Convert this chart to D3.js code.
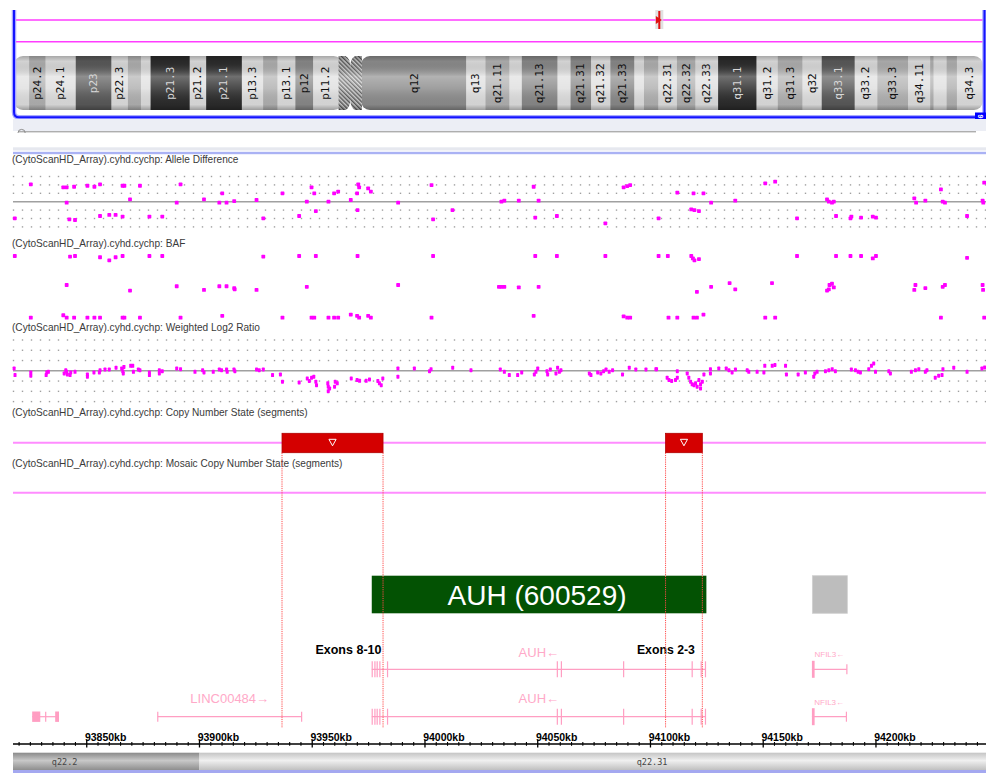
<!DOCTYPE html>
<html><head><meta charset="utf-8">
<script src="https://cdn.jsdelivr.net/npm/d3@7"></script>
<style>body{margin:0;background:#fff;}svg{display:block;}</style>
</head><body>
<svg id="chart" width="986" height="773"></svg>
<script>
// ---------------- DATA ----------------
const bandNames = ["p24.3","p24.2","p24.1","p23","p22.3","p22.2","p22.1","p21.3","p21.2","p21.1","p13.3","p13.2","p13.1","p12","p11.2","p11.1","q11","q12","q13","q21.11","q21.12","q21.13","q21.2","q21.31","q21.32","q21.33","q22.1","q22.2","q22.31","q22.32","q22.33","q31.1","q31.2","q31.3","q32","q33.1","q33.2","q33.3","q34.11","q34.12","q34.13","q34.2","q34.3"];
const bandStartMb = [0,2.2,4.6,9.0,14.2,16.6,18.5,19.9,25.6,28.0,33.2,36.3,38.4,41.0,43.6,47.3,49.0,50.7,65.9,68.7,72.2,74.0,79.2,81.1,84.1,86.9,90.4,91.8,93.9,96.6,99.3,102.6,108.2,111.3,114.9,117.7,122.5,125.8,130.3,133.5,134.0,135.9,137.4];
const bandStains = ["gneg","gpos25","gneg","gpos75","gneg","gpos25","gneg","gpos100","gneg","gpos100","gneg","gpos25","gneg","gpos50","gneg","acen","acen","gvar","gneg","gpos25","gneg","gpos50","gneg","gpos50","gneg","gpos50","gneg","gpos25","gneg","gpos25","gneg","gpos100","gneg","gpos25","gneg","gpos75","gneg","gpos25","gneg","gpos25","gneg","gpos25","gneg"];
const chromEndMb = 141.2;
const viewMarkerMb = 94.03;

const viewKb = [93817.3, 94248.8];
const axisMajorKb = [93850, 93900, 93950, 94000, 94050, 94100, 94150, 94200];
const axisMinorStepKb = 5;

const trackTitles = [
  "(CytoScanHD_Array).cyhd.cychp: Allele Difference",
  "(CytoScanHD_Array).cyhd.cychp: BAF",
  "(CytoScanHD_Array).cyhd.cychp: Weighted Log2 Ratio",
  "(CytoScanHD_Array).cyhd.cychp: Copy Number State (segments)",
  "(CytoScanHD_Array).cyhd.cychp: Mosaic Copy Number State (segments)"
];
const gridLevels = [-1.5, -1, -0.5, 0.5, 1, 1.5];

const alleleDiff = [
[93825.2,1.03],[93839.6,0.85],[93841.1,0.85],[93844.4,0.89],[93850.3,0.95],[93853.4,0.89],[93855.9,1.03],[93865.9,0.95],[93866.7,0.95],[93873.6,0.95],[93891.6,1.03],[93949.7,0.85],[93970.4,1.03],[93970.8,0.85],[93974.8,0.79],[93976.0,0.60],[94002.9,0.99],
[93910.1,0.50],[93936.8,0.50],[93950.9,0.50],[93959.7,0.50],[93961.5,0.60],[93969.9,0.50],
[93841.1,-0.06],[93869.2,0.14],[93889.9,-0.06],[93902.0,0.14],[93908.8,-0.06],[93912.0,-0.06],[93915.4,0.04],[93925.3,0.10],[93947.6,0.00],[93957.2,0.00],[93967.1,0.10],[93988.1,-0.06],
[93951.6,-0.56],[93970.1,-0.50],[94012.2,-0.50],
[93818.1,-0.99],[93842.3,-1.05],[93844.8,-1.09],[93855.9,-0.85],[93860.0,-0.79],[93862.8,-0.79],[93865.9,-0.89],[93877.8,-0.89],[93883.5,-0.89],[93928.3,-0.99],[93944.2,-0.85],[94003.6,-1.05],
[94048.2,0.89],[94088.1,0.85],[94089.7,0.93],[94091.0,0.99],[94150.9,1.09],[94155.3,1.19],[94248.0,1.13],
[94111.9,0.54],[94119.1,0.50],[94123.5,0.50],[94228.8,0.73],
[94033.9,0.00],[94035.2,0.06],[94041.6,0.06],[94050.4,0.06],[94126.9,-0.06],[94137.6,0.06],[94178.3,0.14],[94179.1,0.00],[94180.5,-0.06],[94181.3,0.00],[94217.0,0.20],[94217.8,-0.06],[94221.9,0.06],[94229.6,0.00],[94230.6,-0.06],[94247.3,0.06],[94247.6,-0.06],
[94118.1,-0.46],[94119.5,-0.50],[94121.5,-0.56],
[94048.9,-0.95],[94058.5,-0.85],[94080.0,-1.29],[94103.6,-0.99],[94165.0,-0.99],[94182.3,-0.85],[94188.7,-0.99],[94189.1,-0.89],[94193.4,-0.95],[94198.6,-0.89],[94200.0,-0.95],[94240.4,-0.85]
];

const baf = [
[93818.1,1.00],[93842.6,0.99],[93844.8,1.00],[93855.9,0.98],[93860.0,0.93],[93862.8,0.98],[93865.9,1.00],[93877.8,1.00],[93883.5,1.00],[93928.3,0.99],[93944.2,1.00],[93951.6,1.00],[93970.1,1.00],[94003.6,1.00],
[93841.1,0.53],[93869.2,0.44],[93889.9,0.51],[93902.0,0.45],[93908.8,0.51],[93912.0,0.51],[93915.4,0.48],[93915.6,0.46],[93925.3,0.45],[93947.6,0.50],[93988.1,0.53],[94032.8,0.50],
[93825.2,0],[93839.6,0.04],[93841.1,0],[93844.4,0],[93850.3,0],[93853.4,0],[93855.9,0],[93865.9,0],[93866.7,0],[93873.6,0],[93891.6,0],[93910.1,0.03],[93936.8,0],[93949.7,0],[93950.9,0],[93957.2,0],[93959.7,0],[93961.5,0],[93967.1,0.05],[93969.9,0.03],[93970.8,0],[93974.8,0.03],[93976.0,0],[94002.9,0],
[94048.9,1.00],[94058.5,1.00],[94080.0,1.00],[94103.6,1.00],[94107.7,1.00],[94118.1,1.00],[94118.8,0.96],[94119.5,0.93],[94121.5,0.95],[94165.0,1.00],[94182.3,1.00],[94188.7,1.00],[94193.4,1.00],[94198.6,0.96],[94200.0,1.00],[94240.4,0.97],
[94033.9,0.50],[94035.2,0.50],[94041.6,0.49],[94050.4,0.50],[94120.6,0.42],[94126.9,0.50],[94135.1,0.56],[94137.6,0.46],[94153.9,0.56],[94178.3,0.44],[94179.1,0.46],[94179.4,0.53],[94180.5,0.55],[94181.3,0.49],[94217.5,0.53],[94217.0,0.45],[94221.9,0.48],[94229.6,0.50],[94230.6,0.53],[94247.3,0.53],[94247.5,0.45],
[94048.2,0.03],[94088.1,0.02],[94089.7,0],[94091.0,0],[94108.0,0],[94111.9,0],[94119.1,0],[94120.6,0],[94123.5,0.05],[94150.9,0],[94155.3,0],[94228.8,0],[94248.0,0]
];

const log2Ratio = [
[93817.8,0.11],[93818.2,-0.21],[93825.2,-0.08],[93825.2,-0.24],[93832.3,-0.08],[93832.0,-0.21],[93833.0,-0.05],[93840.0,-0.13],[93840.7,0.03],[93841.1,-0.05],[93841.4,-0.18],[93842.6,-0.21],[93842.9,-0.08],[93844.8,-0.05],[93850.3,-0.18],[93850.3,-0.29],[93853.2,-0.08],[93855.6,-0.08],[93855.9,0.03],[93858.1,0.06],[93860.0,0.06],[93863.0,0.15],[93865.5,0.11],[93866.0,-0.02],[93866.2,-0.13],[93866.5,0.19],[93869.5,0.24],[93870.4,0.24],[93870.7,-0.05],[93872.9,0.06],[93873.6,0.03],[93877.8,-0.08],[93877.8,-0.21],[93882.2,0.03],[93882.2,-0.13],[93883.5,-0.02],[93889.9,0.11],[93891.6,0.08],[93898.0,-0.05],[93901.4,0.03],[93902.0,-0.08],[93906.1,-0.05],[93908.8,0.06],[93909.8,0.03],[93912.0,0.06],[93912.3,-0.05],[93915.3,0.06],[93915.7,-0.02],[93925.3,0.06],[93926.5,0.03],[93928.3,0.06],[93932.4,-0.21],[93935.9,-0.18],[93936.8,-0.53],[93944.2,-0.57],[93947.8,-0.37],[93948.7,-0.50],[93949.7,-0.34],[93950.7,-0.29],[93951.6,-0.53],[93951.9,-0.70],[93957.1,-0.78],[93957.1,-0.99],
[93956.9,-0.61],[93957.7,-0.86],[93959.9,-0.78],[93960.2,-0.53],[93961.1,-0.61],[93967.3,-0.37],[93969.9,-0.45],[93971.0,-0.49],[93973.9,-0.49],[93975.4,-0.42],[93979.1,-0.50],[93979.8,-0.61],[93980.6,-0.70],[93981.3,-0.37],[93988.0,0.11],[93988.0,-0.29],[93995.3,0.11],[94002.0,-0.02],[94002.7,0.08],[94012.3,0.15],[94020.4,0.03],[94033.4,0.06],[94035.2,-0.05],[94037.4,-0.21],[94041.1,-0.21],[94042.9,-0.08],[94048.5,-0.18],[94049.2,-0.05],[94050.0,0.11],[94054.1,-0.02],[94054.4,-0.18],[94055.6,0.06],[94058.1,-0.13],[94058.8,0.15],[94059.6,-0.05],[94060.3,0.03],[94072.9,-0.13],[94073.6,-0.21],[94076.6,-0.08],[94078.0,-0.13],[94079.2,-0.02],[94080.3,0.06],[94081.7,-0.05],[94083.2,0.03],[94087.6,-0.18],[94090.6,0.15],[94093.5,0.06],[94098.0,0.06],[94102.4,0.08],
[94102.7,0.08],[94107.4,-0.34],[94108.2,-0.45],[94109.4,-0.50],[94111.1,-0.45],[94111.9,-0.34],[94111.9,-0.02],[94116.3,-0.13],[94117.0,-0.34],[94117.8,-0.53],[94118.5,-0.66],[94119.3,-0.70],[94120.0,-0.61],[94120.7,-0.78],[94121.5,-0.45],[94122.2,-0.86],[94122.2,-0.66],[94123.0,-0.53],[94123.7,-0.18],[94126.6,-0.13],[94126.6,0.08],[94130.3,0.11],[94133.6,0.11],[94134.8,0.03],[94136.2,-0.08],[94137.7,0.06],[94142.9,0.03],[94143.6,-0.05],[94147.3,-0.05],[94150.3,-0.08],[94150.7,0.24],[94154.0,0.24],[94155.2,0.28],[94159.9,0.24],[94160.3,-0.18],[94165.5,-0.18],[94168.7,-0.08],[94172.4,-0.29],[94172.9,-0.13],[94173.9,-0.05],[94177.6,-0.02],[94179.1,0.03],[94180.6,0.08],[94182.0,-0.02],[94189.1,0.06],[94190.9,0.03],[94192.1,-0.05],[94193.1,-0.08],[94196.8,0.08],[94198.0,0.24],[94199.0,0.36],[94199.8,-0.05],[94205.7,-0.02],[94206.4,-0.13],[94215.7,-0.05],[94217.5,0.03],[94219.0,0.08],[94221.9,-0.05],[94222.6,0.03],[94226.3,-0.34],[94227.8,-0.24],[94229.3,-0.21],[94229.7,0.08],[94234.5,0.15],[94240.4,-0.05],[94247.0,0.11],[94248.2,0.16]
];

const cnLossSegments = [[93936.6, 93981.4], [94106.7, 94123.0]];
const omimGene = {label: "AUH (600529)", start: 93976.4, end: 94124.8};
const otherOmimBox = [94171.8, 94187.3];
const exonLabels = ["Exons 8-10", "Exons 2-3"];
const exonLabelEndKb = [93980.7, 94119.7];

const auhExonKb = [93976.6, 93977.8, 93978.8, 93980.0, 93983.4, 94058.7, 94060.5, 94088.1, 94118.5, 94122.5, 94124.4];
const transcriptLabels = ["AUH\u2190", "AUH\u2190", "NFIL3\u2190", "NFIL3\u2190", "LINC00484\u2192", ""];
const transcriptRows = [0, 1, 0, 1, 1, 1];
const transcriptSpans = [[93976.4, 94124.6], [93976.4, 94124.6], [94171.6, 94187.1], [94171.6, 94186.9], [93881.5, 93945.3], [93825.8, 93837.7]];
const transcriptTicks = [auhExonKb, auhExonKb, [94187.1], [94186.9], [93881.5, 93945.3], [93831.8]];
const transcriptBlocks = [[], [], [[94171.6, 94172.8]], [[94171.6, 94172.8]], [], [[93825.8, 93829.4], [93836.0, 93837.7]]];

const stripBands = [["q22.2", 91800, 93900, "gpos25"], ["q22.31", 93900, 96600, "gneg"]];
const stripLabelKb = [93834.5, 94093.9];

// ---------------- DRAW ----------------
const svg = d3.select("#chart");
const defs = svg.append("defs");
const SANS = "'Liberation Sans', Arial, sans-serif";
const MONO = "'DejaVu Sans Mono', monospace";
const MAG = "#ff00ff";

const x = d3.scaleLinear().domain(viewKb).range([13, 986]);
const xI = d3.scaleLinear().domain([0, chromEndMb]).range([14, 983]);
const yAD = d3.scaleLinear().domain([-1.5, 1.5]).range([226.9, 176.5]);
const yBAF = d3.scaleLinear().domain([0, 1]).range([317.7, 256]);
const yL2 = d3.scaleLinear().domain([-1.5, 1.5]).range([401.6, 340]);

function vGrad(id, stops) {
  const g = defs.append("linearGradient").attr("id", id).attr("x1", 0).attr("y1", 0).attr("x2", 0).attr("y2", 1);
  stops.forEach(s => g.append("stop").attr("offset", s[0]).attr("stop-color", s[1]).attr("stop-opacity", s[2]));
}
vGrad("cyl", [[0, "#000", 0.25], [0.1, "#000", 0.06], [0.38, "#fff", 0.32], [0.6, "#fff", 0.15], [0.9, "#000", 0.06], [1, "#000", 0.3]]);
const hatch = defs.append("pattern").attr("id", "hatch").attr("patternUnits", "userSpaceOnUse")
  .attr("width", 3).attr("height", 3).attr("patternTransform", "rotate(-45)");
hatch.append("rect").attr("width", 3).attr("height", 3).attr("fill", "#d4d4d4");
hatch.append("line").attr("x1", 0.75).attr("y1", 0).attr("x2", 0.75).attr("y2", 3).attr("stroke", "#4a4a4a").attr("stroke-width", 1.3);

const stainColor = {gneg: "#e0e0e0", gpos25: "#b2b2b2", gpos50: "#8a8a8a", gpos75: "#5a5a5a", gpos100: "#2c2c2c", gvar: "#8e8e8e"};

// ---- top panel ----
const topG = svg.append("g");
[20, 41.7].forEach(yy => topG.append("line").attr("x1", 13).attr("x2", 986).attr("y1", yy).attr("y2", yy)
  .attr("stroke", "#ff3cff").attr("stroke-width", 1.6));
const mx = xI(viewMarkerMb);
topG.append("rect").attr("x", mx - 4).attr("y", 10).attr("width", 8).attr("height", 19).attr("fill", "#d9d9d9").attr("opacity", 0.8);
topG.append("line").attr("x1", mx).attr("x2", mx).attr("y1", 11).attr("y2", 29).attr("stroke", "#e01010").attr("stroke-width", 2);
topG.append("path").attr("d", `M${mx - 3.5},16 L${mx + 2.5},20 L${mx - 3.5},24 Z`).attr("fill", "#e01010");

const bands = bandNames.map((n, i) => ({name: n, start: bandStartMb[i], end: i < bandNames.length - 1 ? bandStartMb[i + 1] : chromEndMb, stain: bandStains[i]}));
const cen = bands.filter(b => b.stain === "acen");
const cenS = cen[0].start, cenE = cen[cen.length - 1].end;
const iy0 = 56, iy1 = 110, ih = iy1 - iy0;
defs.append("clipPath").attr("id", "pArm").append("rect").attr("x", xI(0)).attr("y", iy0)
  .attr("width", xI(cenS) - xI(0) + 4).attr("height", ih).attr("rx", 9);
defs.append("clipPath").attr("id", "qArm").append("rect").attr("x", xI(cenE) - 1).attr("y", iy0)
  .attr("width", xI(chromEndMb) - xI(cenE) + 1).attr("height", ih).attr("rx", 9);
["pArm", "qArm"].forEach(arm => {
  const g = topG.append("g").attr("clip-path", `url(#${arm})`);
  const sel = bands.filter(b => b.stain !== "acen" && (arm === "pArm" ? b.end <= cenS : b.start >= cenE));
  g.selectAll("rect.band").data(sel).join("rect")
    .attr("x", d => xI(d.start)).attr("y", iy0).attr("width", d => xI(d.end) - xI(d.start) + 0.3).attr("height", ih)
    .attr("fill", d => stainColor[d.stain]);
  g.append("rect").attr("x", 0).attr("y", iy0).attr("width", 986).attr("height", ih).attr("fill", "url(#cyl)");
});
const c0 = xI(cenS), c1 = xI(cenE), cm = (c0 + c1) / 2;
const cenPath = `M${c0},${iy0} L${cm - 5},${iy0} Q${cm},${iy0 + 2} ${cm},${iy0 + 11} Q${cm},${iy0 + 2} ${cm + 5},${iy0} L${c1},${iy0} L${c1},${iy1} L${cm + 5},${iy1} Q${cm},${iy1 - 2} ${cm},${iy1 - 11} Q${cm},${iy1 - 2} ${cm - 5},${iy1} L${c0},${iy1} Z`;
topG.append("path").attr("d", cenPath).attr("fill", "url(#hatch)");
topG.append("path").attr("d", cenPath).attr("fill", "url(#cyl)");
topG.selectAll("text.band").data(bands.filter(b => b.stain !== "acen" && xI(b.end) - xI(b.start) >= 16)).join("text")
  .attr("transform", d => `translate(${(xI(d.start) + xI(d.end)) / 2},83.3) rotate(-90)`)
  .attr("text-anchor", "middle").attr("dominant-baseline", "central")
  .attr("font-family", MONO).attr("font-size", 11)
  .attr("fill", d => (d.stain === "gpos75" || d.stain === "gpos100") ? "#d8d8d8" : "#111")
  .text(d => d.name);

const framePath = "M14,10 L14,112 Q14,117.3 19,117.3 L984.5,117.3 L984.5,10";
topG.append("path").attr("d", framePath).attr("fill", "none").attr("stroke", "#a8a8ff").attr("stroke-width", 4.5);
topG.append("path").attr("d", framePath).attr("fill", "none").attr("stroke", "#1414ff").attr("stroke-width", 2);
topG.append("rect").attr("x", 975).attr("y", 112.5).attr("width", 11).attr("height", 8).attr("fill", "#0000ff");
topG.append("text").attr("transform", "translate(980.5,116.5) rotate(90)").attr("text-anchor", "middle")
  .attr("dominant-baseline", "central").attr("font-family", SANS).attr("font-size", 7).attr("font-weight", "bold")
  .attr("fill", "#fff").text("9");
topG.append("rect").attr("x", 13).attr("y", 119).attr("width", 973).attr("height", 12).attr("fill", "#eceef5");
topG.append("line").attr("x1", 19).attr("x2", 976).attr("y1", 131.8).attr("y2", 131.8).attr("stroke", "#8c8c8c").attr("stroke-width", 1);
topG.append("path").attr("d", "M18,133 A3.6,3.6 0 0 1 25.2,133").attr("fill", "none").attr("stroke", "#8c8c8c").attr("stroke-width", 1);
topG.append("rect").attr("x", 13).attr("y", 147.3).attr("width", 973).attr("height", 3.2).attr("fill", "#e6e8ef");
topG.append("rect").attr("x", 13).attr("y", 151.8).attr("width", 973).attr("height", 2.4).attr("fill", "#aab2f4");

// ---- track titles ----
const titleY = [162.5, 246.8, 330.5, 416.2, 467];
svg.selectAll("text.title").data(trackTitles).join("text")
  .attr("x", 12).attr("y", (d, i) => titleY[i])
  .attr("font-family", SANS).attr("font-size", 10.1).attr("fill", "#3a3a3a").text(d => d);

// ---- dotted grids ----
const dotX = d3.range(13.5, 986, 9);
function grid(yScale) {
  const g = svg.append("g");
  gridLevels.forEach(lv => {
    g.append("g").selectAll("rect").data(dotX).join("rect")
      .attr("x", d => d - 0.7).attr("y", yScale(lv) - 0.7).attr("width", 1.4).attr("height", 1.4).attr("fill", "#a0a0a0");
  });
  g.append("line").attr("x1", 13).attr("x2", 986).attr("y1", yScale(0)).attr("y2", yScale(0))
    .attr("stroke", "#a0a0a0").attr("stroke-width", 1.4);
}
grid(yAD);
grid(yL2);

// ---- points ----
function pts(data, yScale, w, h) {
  svg.append("g").selectAll("rect").data(data).join("rect")
    .attr("x", d => x(d[0]) - w / 2).attr("y", d => yScale(d[1]) - h / 2)
    .attr("width", w).attr("height", h).attr("rx", 0.7).attr("fill", MAG);
}
pts(alleleDiff, yAD, 3.8, 3.8);
pts(baf, yBAF, 3.8, 3.8);
pts(log2Ratio, yL2, 3, 4);

// ---- copy number tracks ----
const cnY = 442.7, mosY = 492.7;
[cnY, mosY].forEach(yy => svg.append("line").attr("x1", 13).attr("x2", 986).attr("y1", yy).attr("y2", yy)
  .attr("stroke", "#ff8cff").attr("stroke-width", 2));
const seg = svg.append("g");
seg.selectAll("rect").data(cnLossSegments).join("rect")
  .attr("x", d => x(d[0])).attr("y", 433.3).attr("width", d => x(d[1]) - x(d[0])).attr("height", 19.4)
  .attr("fill", "#d40000").attr("stroke", "#b00000").attr("stroke-width", 0.8);
seg.selectAll("path").data(cnLossSegments).join("path")
  .attr("d", d => { const c = (x(d[0]) + x(d[1])) / 2; return `M${c - 3.6},439.3 L${c + 3.6},439.3 L${c},445.8 Z`; })
  .attr("fill", "none").attr("stroke", "#fff").attr("stroke-width", 1);

// ---- OMIM gene boxes ----
svg.append("rect").attr("x", x(omimGene.start)).attr("y", 575.7).attr("width", x(omimGene.end) - x(omimGene.start)).attr("height", 37.6)
  .attr("fill", "#035203");
svg.append("text").attr("x", (x(omimGene.start) + x(omimGene.end)) / 2 - 2).attr("y", 605)
  .attr("text-anchor", "middle").attr("font-family", SANS).attr("font-size", 28).attr("fill", "#fff").text(omimGene.label);
svg.append("rect").attr("x", x(otherOmimBox[0])).attr("y", 575.7).attr("width", x(otherOmimBox[1]) - x(otherOmimBox[0])).attr("height", 37.6)
  .attr("fill", "#bdbdbd").attr("stroke", "#d0d0d0").attr("stroke-width", 0.8);

svg.append("g").selectAll("text").data(exonLabels).join("text")
  .attr("x", (d, i) => x(exonLabelEndKb[i])).attr("y", 654).attr("text-anchor", "end")
  .attr("font-family", SANS).attr("font-weight", "bold").attr("font-size", 13).attr("fill", "#000")
  .attr("textLength", (d, i) => i === 0 ? 66 : 58).attr("lengthAdjust", "spacingAndGlyphs")
  .text(d => d);

// ---- transcripts ----
const PINK = "#ff9ec2";
const rowY = [669.3, 716.7];
const labelY = [[656.5, 657], [703.2, 704.5]];
transcriptLabels.forEach((lab, i) => {
  const g = svg.append("g");
  const yy = rowY[transcriptRows[i]];
  const span = transcriptSpans[i];
  const isNf = lab.startsWith("NFIL3");
  const isAuh = lab.startsWith("AUH");
  g.append("line").attr("x1", x(span[0])).attr("x2", x(span[1])).attr("y1", yy).attr("y2", yy)
    .attr("stroke", PINK).attr("stroke-width", 1.2);
  const th = isAuh ? 8 : 5;
  g.append("g").selectAll("line").data(transcriptTicks[i]).join("line")
    .attr("x1", d => x(d)).attr("x2", d => x(d)).attr("y1", yy - th).attr("y2", yy + th)
    .attr("stroke", PINK).attr("stroke-width", 1.2);
  const bh = isNf ? 8.5 : 5.2;
  g.append("g").selectAll("rect").data(transcriptBlocks[i]).join("rect")
    .attr("x", d => x(d[0])).attr("y", yy - bh).attr("width", d => Math.max(1.5, x(d[1]) - x(d[0]))).attr("height", bh * 2)
    .attr("fill", PINK);
  if (lab) {
    g.append("text").attr("x", (x(span[0]) + x(span[1])) / 2).attr("y", labelY[transcriptRows[i]][isNf ? 1 : 0])
      .attr("text-anchor", "middle").attr("font-family", SANS).attr("font-size", isNf ? 8 : 13)
      .attr("fill", "#ffa9c8").text(lab);
  }
});

// ---- red dotted boundary lines ----
const bounds = cnLossSegments.flat();
svg.append("g").selectAll("line").data(bounds).join("line")
  .attr("x1", d => x(d)).attr("x2", d => x(d)).attr("y1", 452.7).attr("y2", 728)
  .attr("stroke", "#ff4a4a").attr("stroke-width", 1).attr("stroke-dasharray", "1.2,1");

// ---- kb axis ----
const ax = svg.append("g");
const axY = 744;
ax.append("line").attr("x1", 13).attr("x2", 986).attr("y1", axY).attr("y2", axY).attr("stroke", "#000").attr("stroke-width", 1.5);
const minorKb = d3.range(Math.ceil(viewKb[0] / axisMinorStepKb) * axisMinorStepKb, viewKb[1], axisMinorStepKb)
  .filter(k => !axisMajorKb.includes(k));
ax.append("g").selectAll("line").data(minorKb).join("line")
  .attr("x1", d => x(d)).attr("x2", d => x(d)).attr("y1", axY - 2).attr("y2", axY + 1.8).attr("stroke", "#000").attr("stroke-width", 1.1);
ax.append("g").selectAll("line").data(axisMajorKb).join("line")
  .attr("x1", d => x(d)).attr("x2", d => x(d)).attr("y1", axY - 4).attr("y2", axY + 3.5).attr("stroke", "#000").attr("stroke-width", 1.3);
ax.append("g").selectAll("text").data(axisMajorKb).join("text")
  .attr("x", d => x(d) - 1.8).attr("y", 741).attr("font-family", SANS).attr("font-weight", "bold").attr("font-size", 10.5)
  .attr("fill", "#000").text(d => d + "kb");

// ---- bottom cytoband strip ----
vGrad("stripDark", [[0, "#8a8a8a", 1], [0.45, "#c8c8c8", 1], [1, "#8e8e8e", 1]]);
vGrad("stripLight", [[0, "#c4c4c4", 1], [0.45, "#f0f0f0", 1], [1, "#c0c0c0", 1]]);
const sb = svg.append("g");
sb.append("g").selectAll("rect").data(stripBands).join("rect")
  .attr("x", d => x(Math.max(d[1], viewKb[0])))
  .attr("y", 752.7).attr("width", d => x(Math.min(d[2], viewKb[1])) - x(Math.max(d[1], viewKb[0]))).attr("height", 17.3)
  .attr("fill", d => d[3] === "gneg" ? "url(#stripLight)" : "url(#stripDark)");
sb.append("g").selectAll("text").data(stripBands).join("text")
  .attr("x", (d, i) => x(stripLabelKb[i])).attr("y", 764.5)
  .attr("font-family", MONO).attr("font-size", 8.5).attr("fill", "#444").text(d => d[0]);
sb.append("rect").attr("x", 13).attr("y", 770).attr("width", 973).attr("height", 3).attr("fill", "#a4a8f0");
</script>
</body></html>
